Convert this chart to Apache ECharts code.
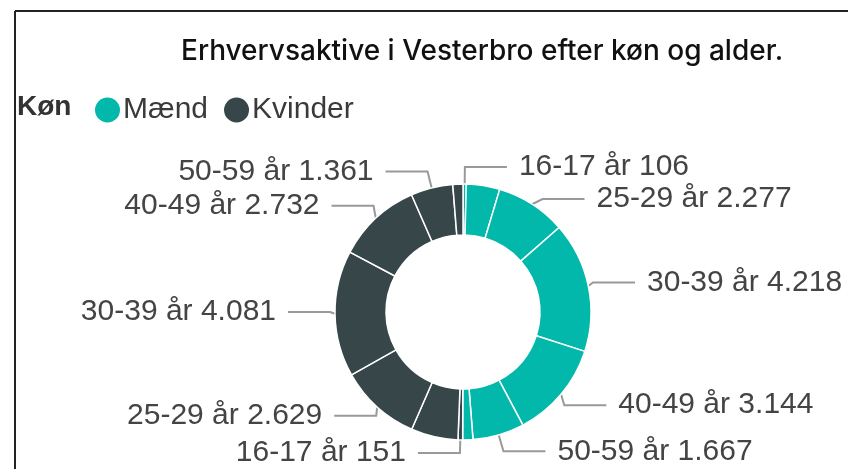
<!DOCTYPE html>
<html>
<head>
<meta charset="utf-8">
<script src="https://cdn.jsdelivr.net/npm/echarts@6/dist/echarts.min.js"></script>
<style>
  html, body { margin: 0; padding: 0; background: #fff; }
  #chart { width: 848px; height: 469px; }
</style>
</head>
<body>
<div id="chart"></div>
<script>
// Employed residents of Vesterbro by sex and age group
const ageGroups = ['16-17 år', '18-24 år', '25-29 år', '30-39 år', '40-49 år', '50-59 år', '60-64 år'];
const maend     = [106, 1080, 2277, 4218, 3144, 1667, 330];
const kvinder   = [151, 1520, 2629, 4081, 2732, 1361, 327];
const sexes     = ['Mænd', 'Kvinder'];
// age groups whose slices are too narrow to carry a label
const unlabelledAges = ['18-24 år', '60-64 år'];

const colors = { 'Mænd': '#01B8AA', 'Kvinder': '#374649' };
const labelFont = '"Liberation Sans", Arial, sans-serif';

function fmt(v) {
  return String(v).replace(/\B(?=(\d{3})+(?!\d))/g, '.');
}

function slices(sex, values) {
  return values.map((v, i) => {
    const item = { name: sex, value: v, age: ageGroups[i], itemStyle: { color: colors[sex] } };
    if (unlabelledAges.includes(ageGroups[i])) {
      item.label = { show: false };
      item.labelLine = { show: false };
    }
    return item;
  });
}

const chart = echarts.init(document.getElementById('chart'), null, { renderer: 'canvas' });

chart.setOption({
  animation: false,
  color: [colors['Mænd'], colors['Kvinder']],
  title: [
    {
      text: 'Erhvervsaktive i Vesterbro efter køn og alder.',
      left: 176, top: 33,
      textStyle: { fontFamily: 'Inter, sans-serif', fontSize: 28, fontWeight: 500, color: '#111' }
    },
    {
      text: 'Køn',
      left: 12, top: 88,
      textStyle: { fontFamily: labelFont, fontSize: 28, fontWeight: 'bold', color: '#333' }
    }
  ],
  legend: {
    data: sexes,
    left: 88, top: 90,
    icon: 'circle',
    itemWidth: 27, itemHeight: 27,
    itemGap: 14,
    textStyle: { fontFamily: labelFont, fontSize: 30, color: '#3a3a3a', padding: [0, 0, 0, -3] }
  },
  graphic: [
    { type: 'line', shape: { x1: 15, y1: 11, x2: 848, y2: 11 }, style: { stroke: '#222', lineWidth: 2 } },
    { type: 'line', shape: { x1: 15, y1: 11, x2: 15, y2: 469 }, style: { stroke: '#222', lineWidth: 2 } }
  ],
  series: [{
    type: 'pie',
    center: [463, 312],
    radius: [77, 128],
    startAngle: 90,
    clockwise: true,
    avoidLabelOverlap: true,
    itemStyle: { borderColor: '#fff', borderWidth: 1.5 },
    label: {
      show: true,
      position: 'outside',
      formatter: p => p.data.age + ' ' + fmt(p.value),
      fontFamily: labelFont,
      fontSize: 30,
      color: '#444',
      overflow: 'none',
      distanceToLabelLine: 12
    },
    labelLine: {
      show: true,
      length: 17,
      length2: 42,
      lineStyle: { color: '#999', width: 2 }
    },
    emphasis: { scale: false },
    data: slices('Mænd', maend).concat(slices('Kvinder', kvinder))
  }]
});
</script>
</body>
</html>
